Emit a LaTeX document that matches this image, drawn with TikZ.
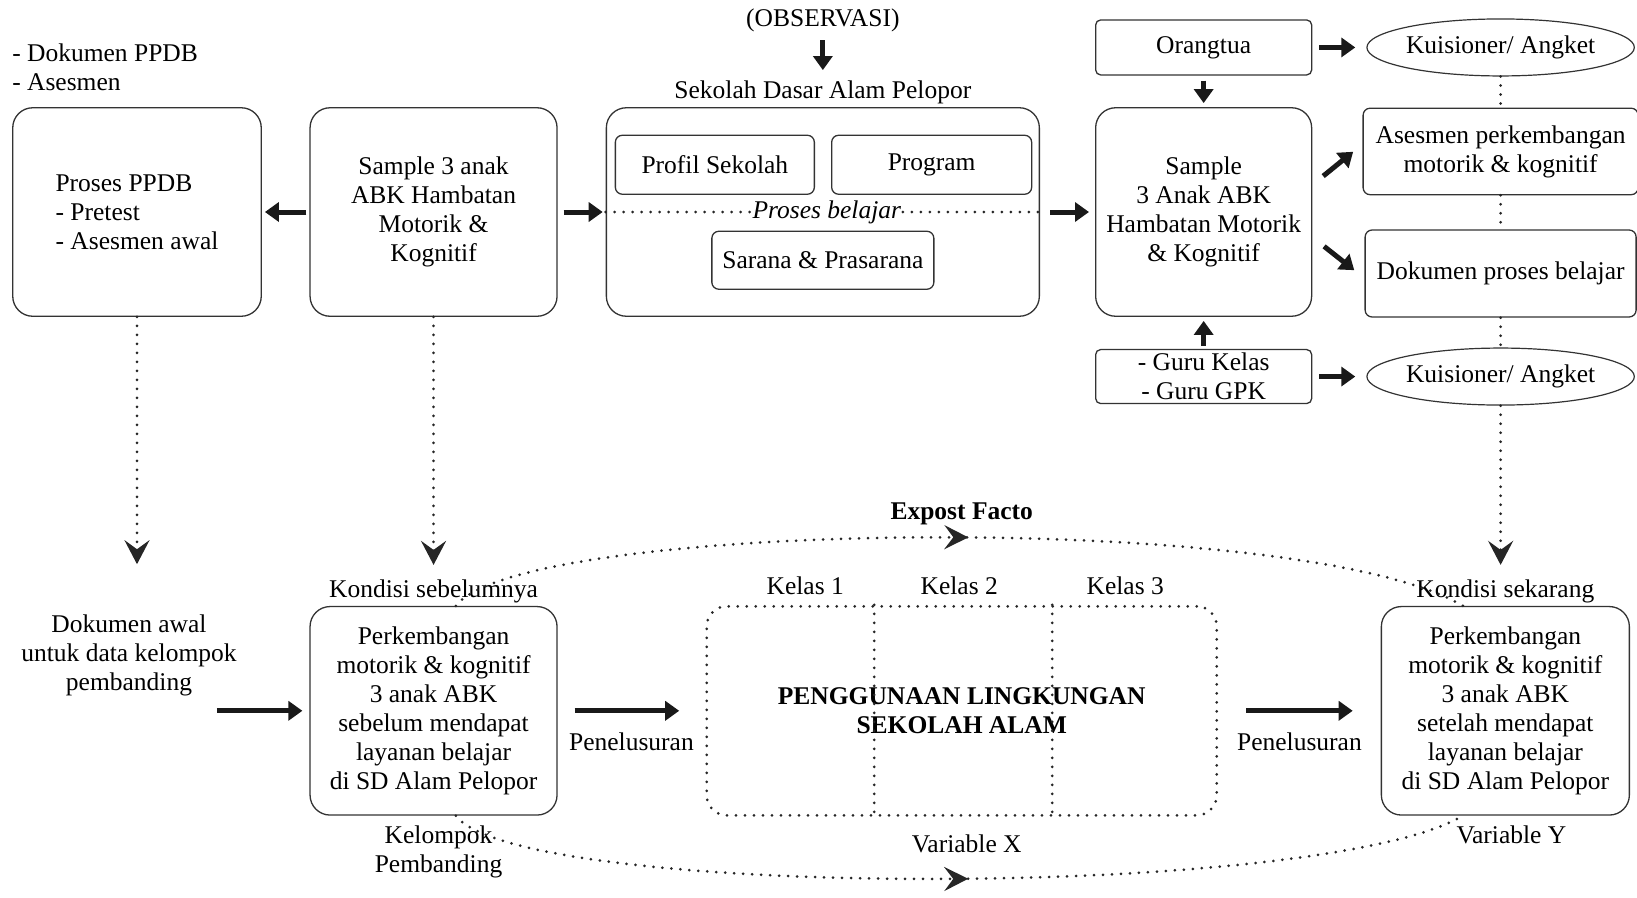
\documentclass[tikz,border=0pt]{standalone}
\usepackage{fontspec}
\setmainfont{Liberation Serif}
\usetikzlibrary{shapes.geometric, arrows.meta, positioning, decorations.markings}
\newcommand{\diagfont}{\fontsize{25.5pt}{29pt}\selectfont}

\begin{document}
\begin{tikzpicture}[x=1pt, y=-1pt, font=\diagfont,
  bigbox/.style={draw=black!80, line width=1.3pt, rounded corners=20pt, align=center, minimum height=208.5pt},
  smallbox/.style={draw=black!80, line width=1.3pt, rounded corners=7pt, align=center},
  oval/.style={draw=black!80, line width=1.2pt, ellipse, inner sep=0pt, minimum width=265pt, minimum height=57pt},
  txt/.style={inner sep=0pt, align=center},
  fat/.style={draw=black!90, line width=5pt, -{Triangle[length=14pt,width=19pt]}},
  dotline/.style={draw=black!85, line width=3pt, line cap=round, dash pattern=on 0pt off 9pt},
  dotarrow/.style={dotline, -{Stealth[length=24pt,width=25pt,inset=9pt]}},
  midtip/.style={postaction={decorate}, decoration={markings, mark=at position #1 with {\arrow{Stealth[length=24pt,width=24pt,inset=9pt]}}}}]
  \useasboundingbox (0,0) rectangle (1637,897);

  % obere Reihe
  \node[bigbox, align=left, minimum width=248.5pt] (proses) at (137,212) {Proses PPDB\\- Pretest\\- Asesmen awal};
  \node[bigbox, minimum width=247pt, right=47.5pt of proses] (sampleA) {Sample 3 anak\\ABK Hambatan\\Motorik \&\\Kognitif};
  \node[bigbox, minimum width=433pt, right=48pt of sampleA] (sekolah) {};
  \node[bigbox, minimum width=216pt, right=55pt of sekolah] (sampleB) {Sample\\3 Anak ABK\\Hambatan Motorik\\\& Kognitif};
  \node[txt, align=left, above right=16.5pt and 0pt of proses.north west] (dokppdb) {- Dokumen PPDB\\- Asesmen};
  \node[txt, above=2.5pt of sekolah] (sdap) {Sekolah Dasar Alam Pelopor};
  \node[txt, above=49pt of sdap] (obs) {(OBSERVASI)};

  % isi sekolah
  \node[smallbox, minimum width=199pt, minimum height=59pt, below right=27.5pt and 9pt of sekolah.north west] (profil) {Profil Sekolah};
  \node[smallbox, minimum width=200pt, minimum height=59pt, right=16pt of profil] (program) {Program};
  \node[smallbox, minimum width=222pt, minimum height=58pt, above=27pt of sekolah.south] (sarana) {Sarana \& Prasarana};
  \node[txt, inner sep=1.5pt, font=\diagfont\itshape, xshift=4pt] (belajar) at (sekolah) {Proses belajar};
  \draw[dotline] (sekolah.west) -- (belajar.west);
  \draw[dotline] (belajar.east) -- (sekolah.east);

  % sumber data
  \node[smallbox, rounded corners=5pt, minimum width=216pt, minimum height=55pt, above=31.5pt of sampleB] (ortu) {Orangtua};
  \node[smallbox, rounded corners=5pt, inner sep=2pt, minimum width=216pt, minimum height=54pt, below=32pt of sampleB] (guru) {- Guru Kelas\\- Guru GPK};
  \node[oval, right=54pt of ortu] (kuis1) {Kuisioner/ Angket};
  \node[oval, right=54pt of guru] (kuis2) {Kuisioner/ Angket};
  \node[smallbox, minimum width=275pt, minimum height=86.5pt, below=31pt of kuis1] (asesmen) {Asesmen perkembangan\\motorik \& kognitif};
  \node[smallbox, minimum width=271pt, minimum height=87pt, below=34pt of asesmen] (dokumen) {Dokumen proses belajar};

  \draw[fat, shorten <=8pt, shorten >=11pt] (obs) -- (sdap);
  \draw[fat, shorten <=3pt, shorten >=3pt] (sampleA) -- (proses);
  \draw[fat, shorten <=6pt, shorten >=3pt] (sampleA) -- (sekolah);
  \draw[fat, shorten <=10pt, shorten >=6pt] (sekolah) -- (sampleB);
  \draw[fat, shorten <=5pt, shorten >=4pt] (ortu) -- (sampleB);
  \draw[fat, shorten <=3pt, shorten >=4pt] (guru) -- (sampleB);
  \draw[fat, shorten <=7pt, shorten >=11pt] (ortu) -- (kuis1);
  \draw[fat, shorten <=7pt, shorten >=11pt] (guru) -- (kuis2);
  \draw[fat, shorten <=14pt, shorten >=12pt] (sampleB.14) -- (asesmen.177);
  \draw[fat, shorten <=15pt, shorten >=13pt] (sampleB.-13) -- (dokumen.182);
  \draw[dotline] (kuis1) -- (asesmen);
  \draw[dotline] (asesmen) -- (dokumen);
  \draw[dotline] (dokumen) -- (kuis2);

  % untere Reihe
  \node[txt] (docawal) at (129,655) {Dokumen awal\\untuk data kelompok\\pembanding};
  \node[bigbox, minimum width=247pt, below=289pt of sampleA] (kondA) {Perkembangan\\motorik \& kognitif\\3 anak ABK\\sebelum mendapat\\layanan belajar\\di SD Alam Pelopor};
  \node[dotline, rounded corners=20pt, align=center, font=\diagfont\bfseries, minimum width=510pt, minimum height=209pt, right=147.5pt of kondA] (pengg) {PENGGUNAAN LINGKUNGAN\\SEKOLAH ALAM};
  \node[bigbox, minimum width=248pt, right=162.5pt of pengg] (kondB) {Perkembangan\\motorik \& kognitif\\3 anak ABK\\setelah mendapat\\layanan belajar\\di SD Alam Pelopor};
  \foreach \x in {169,347}
    \draw[dotline] ([xshift=\x pt]pengg.north west) -- ([xshift=\x pt]pengg.south west);
  \foreach \i/\x in {1/100,2/254,3/420}
    \node[txt, above=9.5pt of pengg.north west, xshift=\x pt] (kelas\i) {Kelas \i};

  \node[txt, above=3pt of kondA] (sebelum) {Kondisi sebelumnya};
  \node[txt, below=10pt of kondA, xshift=5pt] (kelompok) {Kelompok\\Pembanding};
  \node[txt, above=3pt of kondB] (sekarang) {Kondisi sekarang};
  \node[txt, below=10pt of kondB, xshift=6pt] (varY) {Variable Y};
  \node[txt, below=18pt of pengg, xshift=5pt] (varX) {Variable X};
  \node[txt, font=\diagfont\bfseries, above=80pt of pengg] (expost) {Expost Facto};

  \draw[dotarrow, shorten >=50pt] (proses.south) -- (proses.south |- docawal.north);
  \draw[dotarrow, shorten >=41pt] (sampleA) -- (kondA);
  \draw[dotarrow, shorten >=41pt] (kuis2.south) -- (kuis2.south |- kondB.north);
  \draw[fat, shorten >=7pt] ([xshift=-20pt]docawal.east |- kondA.west) -- (kondA.west);
  \draw[fat, shorten <=17pt, shorten >=26pt] (kondA) -- node[txt, below=19pt] (pen1) {Penelusuran} (pengg);
  \draw[fat, shorten <=28pt, shorten >=28pt] (pengg) -- node[txt, below=19pt] (pen2) {Penelusuran} (kondB);

  % Expost Facto / Variable X
  \draw[dotline, midtip=0.51] (kondA.78) .. controls (520,520) and (1300,509) .. (kondB.112);
  \draw[dotline, midtip=0.51] (kondA.-78) .. controls (520,900) and (1320,900) .. (kondB.-112);
\end{tikzpicture}
\end{document}
